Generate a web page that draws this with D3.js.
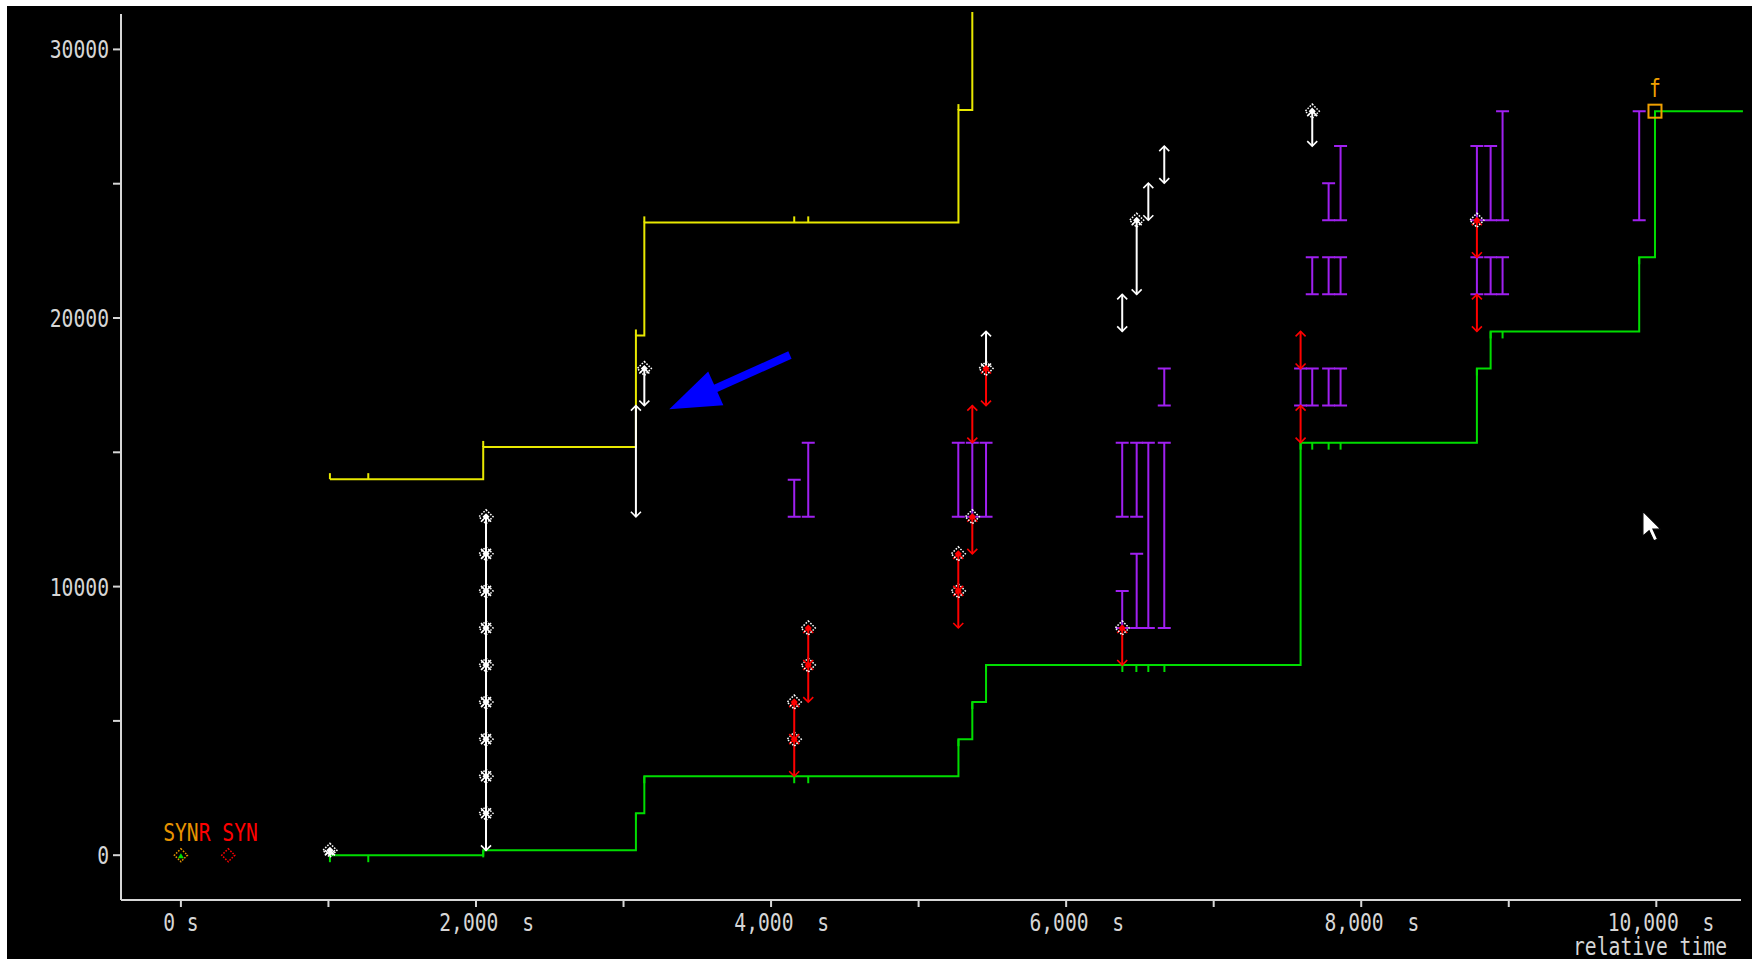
<!DOCTYPE html>
<html>
<head>
<meta charset="utf-8">
<script src="https://cdn.jsdelivr.net/npm/d3@7"></script>
<style>
  html, body { margin: 0; padding: 0; background: #fff; overflow: hidden; }
  svg text { font-family: "DejaVu Sans Mono", monospace; font-size: 24px; white-space: pre; }
</style>
</head>
<body>
<svg id="chart" width="1762" height="959"></svg>
<script>
// axis ticks (time in the axis' own units, sequence numbers in bytes)
const xTicks = [0, 1000, 2000, 3000, 4000, 5000, 6000, 7000, 8000, 9000, 10000];
const xTickLabels = ["0 s", "", "2,000  s", "", "4,000  s", "", "6,000  s", "", "8,000  s", "", "10,000  s"];
const yTicks = [0, 5000, 10000, 15000, 20000, 25000, 30000];
const yTickLabels = ["0", "", "10000", "", "20000", "", "30000"];

// ack line (green) - one entry per ack seen
const ackTimes = [1010, 1270, 2049, 3084, 3141, 4157, 4252, 5270, 5364, 5457, 6381, 6476, 6557, 6666, 7589, 7668, 7779, 7860, 8784, 8877, 8958, 9884, 9991];
const ackValues = [0, 0, 180, 1560, 2940, 2940, 2940, 4320, 5700, 7080, 7080, 7080, 7080, 7080, 15360, 15360, 15360, 15360, 18120, 19500, 19500, 22260, 27700];
const ackEndTime = 10587;

// receive window line (yellow)
const winTimes = [1010, 1270, 2049, 3084, 3141, 4157, 4252, 5270, 5364];
const winValues = [14000, 14000, 15200, 19350, 23560, 23560, 23560, 27740, 34000];

// data segments: [time, startSeq, endSeq, push]
const whiteSegs = [
  [1010, 0, 180, 1],
  [2068, 180, 1560, 1], [2068, 1560, 2940, 1], [2068, 2940, 4320, 1],
  [2068, 4320, 5700, 1], [2068, 5700, 7080, 1], [2068, 7080, 8460, 1],
  [2068, 8460, 9840, 1], [2068, 9840, 11220, 1], [2068, 11220, 12600, 1],
  [3084, 12600, 16740, 0], [3141, 16740, 18120, 1],
  [5457, 18120, 19500, 0],
  [6380, 19500, 20880, 0], [6478, 20880, 23640, 1],
  [6557, 23640, 25020, 0], [6665, 25020, 26400, 0],
  [7668, 26400, 27700, 1]
];
// retransmitted segments
const redSegs = [
  [4157, 2940, 4320, 1], [4157, 4320, 5700, 1],
  [4252, 5700, 7080, 1], [4252, 7080, 8460, 1],
  [5269, 8460, 9840, 1], [5269, 9840, 11220, 1],
  [5364, 11220, 12600, 1], [5364, 15360, 16740, 0],
  [5457, 16740, 18120, 1],
  [6380, 7080, 8460, 1],
  [7589, 15360, 16740, 0], [7589, 18120, 19500, 0],
  [8784, 19500, 20880, 0], [8784, 22260, 23640, 1]
];

// SACK blocks (purple): [time, lo, hi]
const sackBlocks = [
  [4157, 12600, 13980], [4252, 12600, 15360],
  [5269, 12600, 15360], [5364, 12600, 15360], [5457, 12600, 15360],
  [6380, 12600, 15360], [6380, 8460, 9840],
  [6478, 12600, 15360], [6478, 8460, 11220],
  [6557, 8460, 15360],
  [6665, 8460, 15360], [6665, 16740, 18120],
  [7589, 16740, 18120],
  [7668, 16740, 18120], [7668, 20880, 22260],
  [7779, 16740, 18120], [7779, 20880, 22260], [7779, 23640, 25020],
  [7860, 16740, 18120], [7860, 20880, 22260], [7860, 23640, 26400],
  [8784, 20880, 22260], [8784, 23640, 26400],
  [8877, 20880, 22260], [8877, 23640, 26400],
  [8958, 20880, 22260], [8958, 23640, 27700],
  [9884, 23640, 27700]
];

// flags
const synTimes = [321, 0];
const synLabels = ["R SYN", "SYN"];
const synColors = ["#ff0000", "#e89400"];
const finMark = [9991, 27700];

// annotations on top of the plot (blue pointer, mouse cursor)
const noteTail = [4128, 18622];
const noteTip = [3310, 16601];
const cursorAt = [9909, 12803];

const svg = d3.select("#chart");
const x = d3.scaleLinear().domain([-406, 10574]).range([121, 1741]);
const y = d3.scaleLinear().domain([-1668, 31318]).range([900, 14]);

// white frame + black plot background
svg.append("rect").attr("width", 1762).attr("height", 959).attr("fill", "#fff");
svg.append("rect").attr("x", 7).attr("y", 6).attr("width", 1745).attr("height", 953).attr("fill", "#000");

svg.append("clipPath").attr("id", "plotclip")
  .append("rect").attr("x", 121).attr("y", 12).attr("width", 1631).attr("height", 888);

function label(g, px, py, str, anchor, color) {
  g.append("text")
    .attr("transform", `translate(${px},${py}) scale(0.82,1)`)
    .attr("xml:space", "preserve")
    .attr("text-anchor", anchor)
    .attr("fill", color)
    .text(str);
}

// axes
const axisColor = "#d6d6d6";
const gx = svg.append("g").attr("transform", "translate(0,900)")
  .call(d3.axisBottom(x).tickValues(xTicks).tickSize(7).tickSizeOuter(0).tickFormat("").offset(0));
const gy = svg.append("g").attr("transform", "translate(121,0)")
  .call(d3.axisLeft(y).tickValues(yTicks).tickSize(8).tickSizeOuter(0).tickFormat("").offset(0));
[gx, gy].forEach((g) => {
  g.selectAll("path, line").attr("stroke", axisColor).attr("stroke-width", 2);
});

const labels = svg.append("g");
xTicks.forEach((d, i) => {
  if (!xTickLabels[i]) return;
  if (d === 0) label(labels, x(d), 931, xTickLabels[i], "middle", axisColor);
  else label(labels, x(d) + 58, 931, xTickLabels[i], "end", axisColor);
});
yTicks.forEach((d, i) => {
  if (yTickLabels[i]) label(labels, 109, y(d) + 9, yTickLabels[i], "end", axisColor);
});
label(labels, 1727, 955, "relative time", "end", axisColor);

const plot = svg.append("g").attr("clip-path", "url(#plotclip)");

// window line (yellow)
const winPts = winTimes.map((t, i) => [t, winValues[i]]);
plot.append("path")
  .datum(winPts)
  .attr("d", d3.line().x((d) => x(d[0])).y((d) => y(d[1])).curve(d3.curveStepAfter))
  .attr("fill", "none").attr("stroke", "#e8e800").attr("stroke-width", 2);
plot.selectAll(".wtick").data(winPts).enter().append("line")
  .attr("x1", (d) => x(d[0])).attr("x2", (d) => x(d[0]))
  .attr("y1", (d) => y(d[1])).attr("y2", (d) => y(d[1]) - 6)
  .attr("stroke", "#e8e800").attr("stroke-width", 2);

// ack line (green)
const ackPts = ackTimes.map((t, i) => [t, ackValues[i]]);
plot.append("path")
  .datum(ackPts.concat([[ackEndTime, ackValues[ackValues.length - 1]]]))
  .attr("d", d3.line().x((d) => x(d[0])).y((d) => y(d[1])).curve(d3.curveStepAfter))
  .attr("fill", "none").attr("stroke", "#00dd00").attr("stroke-width", 2);
plot.selectAll(".atick").data(ackPts).enter().append("line")
  .attr("x1", (d) => x(d[0])).attr("x2", (d) => x(d[0]))
  .attr("y1", (d) => y(d[1])).attr("y2", (d) => y(d[1]) + 7)
  .attr("stroke", "#00dd00").attr("stroke-width", 2);

// SACK blocks
const purple = "#a020f0";
sackBlocks.forEach(([t, lo, hi]) => {
  const px = x(t);
  plot.append("path")
    .attr("d", `M${px},${y(lo)}V${y(hi)}M${px - 6.5},${y(lo)}H${px + 6.5}M${px - 6.5},${y(hi)}H${px + 6.5}`)
    .attr("fill", "none").attr("stroke", purple).attr("stroke-width", 2);
});

function diamond(g, px, py, r, stroke, fill, dotted) {
  g.append("path")
    .attr("d", `M${px},${py - r}L${px + r},${py}L${px},${py + r}L${px - r},${py}Z`)
    .attr("fill", fill).attr("stroke", stroke).attr("stroke-width", 1.5)
    .attr("stroke-dasharray", dotted ? "1.6,1.4" : null);
}

function drawSeg(g, s, color) {
  const [t, lo, hi, push] = s;
  const px = x(t), y0 = y(lo), y1 = y(hi);
  g.append("line").attr("x1", px).attr("x2", px).attr("y1", y0).attr("y2", y1)
    .attr("stroke", color).attr("stroke-width", 2);
  g.append("path")
    .attr("d", `M${px - 5},${y1 + 5}L${px},${y1}L${px + 5},${y1 + 5}M${px - 5},${y0 - 5}L${px},${y0}L${px + 5},${y0 - 5}`)
    .attr("fill", "none").attr("stroke", color).attr("stroke-width", 1.6);
  if (push) {
    diamond(g, px, y1, 7, "#fff", "none", true);
    diamond(g, px, y1, 2.5, color, color, false);
  }
}

const segs = plot.append("g");
whiteSegs.forEach((s) => drawSeg(segs, s, "#ffffff"));
redSegs.forEach((s) => drawSeg(segs, s, "#ff0000"));

// SYN markers and labels
synTimes.forEach((t, i) => {
  const px = x(t), py = y(0);
  diamond(plot, px, py, 6.5, synColors[i], "none", true);
  label(plot, px, py - 14, synLabels[i], "middle", synColors[i]);
});
plot.append("path")
  .attr("d", `M${x(0) - 3},${y(0) + 3}L${x(0)},${y(0) - 2}L${x(0) + 3},${y(0) + 3}Z`)
  .attr("fill", "#00dd00");

// FIN marker
const fx = x(finMark[0]), fy = y(finMark[1]);
plot.append("rect").attr("x", fx - 6.5).attr("y", fy - 6.5).attr("width", 13).attr("height", 13)
  .attr("fill", "none").attr("stroke", "#f0a000").attr("stroke-width", 2);
label(plot, fx, fy - 14, "f", "middle", "#f0a000");

// blue pointer
const p0 = [x(noteTail[0]), y(noteTail[1])], p1 = [x(noteTip[0]), y(noteTip[1])];
const len = Math.hypot(p1[0] - p0[0], p1[1] - p0[1]);
const u = [(p1[0] - p0[0]) / len, (p1[1] - p0[1]) / len];
const n = [-u[1], u[0]];
const base = [p1[0] - u[0] * 51, p1[1] - u[1] * 51];
svg.append("line").attr("x1", p0[0]).attr("y1", p0[1]).attr("x2", base[0] + u[0] * 2).attr("y2", base[1] + u[1] * 2)
  .attr("stroke", "#0000ff").attr("stroke-width", 8);
svg.append("path")
  .attr("d", `M${p1[0]},${p1[1]}L${base[0] + n[0] * 18.5},${base[1] + n[1] * 18.5}L${base[0] - n[0] * 18.5},${base[1] - n[1] * 18.5}Z`)
  .attr("fill", "#0000ff");

// mouse cursor
const cx = x(cursorAt[0]), cy = y(cursorAt[1]);
const cursorShape = [[0, 0], [0, 16], [4, 12.5], [7, 19], [9.5, 18], [6.5, 11.5], [11.5, 11.5]];
svg.append("path")
  .attr("d", "M" + cursorShape.map(([a, b]) => `${cx + a * 1.55},${cy + b * 1.55}`).join("L") + "Z")
  .attr("fill", "#fff").attr("stroke", "#000").attr("stroke-width", 1.2);
</script>
</body>
</html>
